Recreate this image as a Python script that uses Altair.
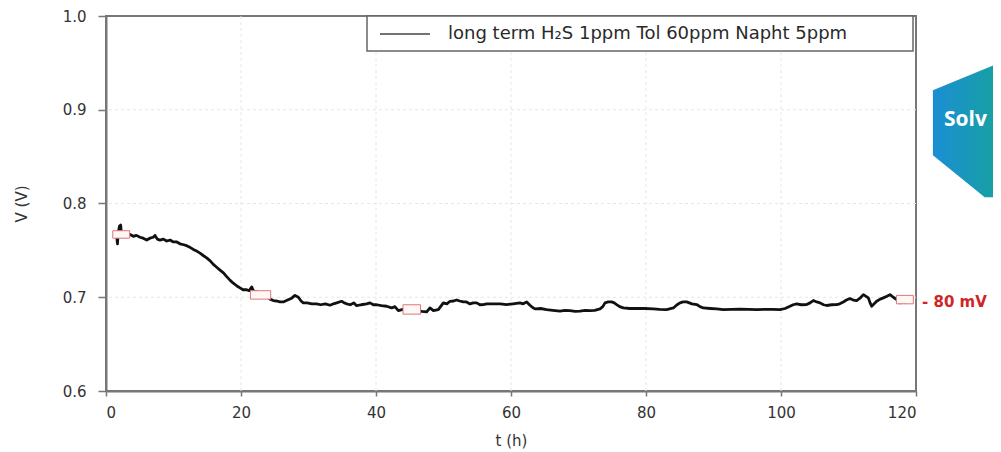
import altair as alt
import pandas as pd

# ---- data ----
t_h = [1.5, 1.58, 1.7, 1.8, 2.0, 2.17, 2.3, 2.6, 3.0, 3.56, 4.05, 4.5, 5.04, 5.5, 6.03, 6.5, 7.0, 7.26, 7.6, 8.0,
       8.5, 8.99, 9.5, 9.97, 10.5, 10.96, 11.5, 11.95, 12.5, 12.94, 13.5, 13.93, 14.5, 14.91, 15.4, 15.9, 16.4,
       16.89, 17.4, 17.88, 18.4, 18.86, 19.4, 19.85, 20.3, 20.84, 21.2, 21.58, 21.9, 22.32, 22.8, 23.3, 23.8,
       24.3, 24.79, 25.3, 25.78, 26.27, 26.9, 27.51, 28.0, 28.5, 28.9, 29.23, 29.8, 30.5, 31.21, 31.8, 32.5,
       33.19, 33.7, 34.17, 34.9, 35.3, 35.65, 36.2, 36.7, 37.14, 37.8, 38.62, 39.11, 39.6, 40.1, 40.8, 41.58,
       42.32, 42.8, 43.31, 44.0, 45.0, 46.0, 46.8, 47.51, 48.0, 48.5, 49.23, 49.98, 50.5, 50.96, 51.5, 51.95,
       52.4, 52.94, 53.4, 53.93, 54.4, 54.91, 55.4, 55.9, 56.4, 56.89, 57.38, 58.4, 59.36, 60.3, 61.33, 61.8,
       62.32, 62.81, 63.2, 63.56, 64.4, 65.28, 66.2, 67.26, 68.0, 68.74, 69.5, 70.22, 71.0, 71.7, 72.4, 73.19,
       73.6, 73.93, 74.4, 74.91, 75.3, 75.65, 76.1, 76.64, 77.6, 78.62, 79.8, 81.09, 82.0, 83.06, 84.05, 84.6,
       85.04, 85.5, 86.03, 86.8, 87.51, 88.0, 88.49, 89.5, 90.5, 91.45, 92.7, 93.93, 95.2, 96.4, 97.6, 98.7,
       99.85, 100.6, 101.33, 101.8, 102.32, 103.0, 103.8, 104.3, 104.79, 105.3, 105.78, 106.3, 106.77, 107.5,
       108.25, 108.7, 109.23, 109.7, 110.22, 110.7, 111.21, 111.7, 112.2, 112.6, 112.94, 113.2, 113.43, 113.8,
       114.17, 114.7, 115.16, 115.7, 116.15, 116.64, 117.14, 117.6, 118.1, 118.5]
v_V = [0.764, 0.765, 0.757, 0.768, 0.776, 0.777, 0.766, 0.768, 0.766, 0.767, 0.765, 0.766, 0.764, 0.763, 0.761,
       0.763, 0.764, 0.766, 0.762, 0.761, 0.762, 0.760, 0.761, 0.759, 0.759, 0.757, 0.756, 0.755, 0.753, 0.751,
       0.749, 0.747, 0.744, 0.742, 0.739, 0.735, 0.732, 0.729, 0.726, 0.722, 0.718, 0.715, 0.712, 0.710, 0.708,
       0.708, 0.707, 0.711, 0.706, 0.706, 0.704, 0.702, 0.701, 0.698, 0.6965, 0.696, 0.695, 0.695, 0.697, 0.699,
       0.702, 0.700, 0.696, 0.694, 0.694, 0.693, 0.693, 0.692, 0.693, 0.6915, 0.693, 0.694, 0.6957, 0.694, 0.693,
       0.692, 0.694, 0.691, 0.692, 0.693, 0.694, 0.692, 0.692, 0.691, 0.6904, 0.6886, 0.690, 0.6858, 0.687,
       0.687, 0.686, 0.685, 0.6844, 0.6886, 0.6858, 0.6869, 0.694, 0.693, 0.6957, 0.696, 0.6971, 0.696, 0.695,
       0.695, 0.6929, 0.694, 0.694, 0.692, 0.6922, 0.693, 0.6929, 0.6929, 0.693, 0.6922, 0.693, 0.694, 0.693,
       0.695, 0.6915, 0.689, 0.6876, 0.688, 0.6869, 0.686, 0.6851, 0.686, 0.6858, 0.685, 0.6851, 0.686, 0.6858,
       0.686, 0.6876, 0.690, 0.694, 0.695, 0.695, 0.694, 0.6922, 0.690, 0.6886, 0.688, 0.688, 0.688, 0.6876,
       0.687, 0.6869, 0.6886, 0.692, 0.694, 0.695, 0.695, 0.693, 0.6922, 0.690, 0.6886, 0.688, 0.6875, 0.6869,
       0.687, 0.6872, 0.687, 0.6869, 0.687, 0.687, 0.6869, 0.688, 0.6904, 0.692, 0.6929, 0.692, 0.6922, 0.694,
       0.6965, 0.695, 0.694, 0.692, 0.6912, 0.692, 0.6922, 0.693, 0.695, 0.697, 0.6986, 0.697, 0.6965, 0.699,
       0.7028, 0.701, 0.6993, 0.694, 0.6904, 0.693, 0.6957, 0.698, 0.6993, 0.701, 0.7028, 0.700, 0.6975, 0.694,
       0.695, 0.694]

series_name = "long term H\u2082S 1ppm Tol 60ppm Napht 5ppm"

# annotation boxes (time range, voltage range)
box_t0 = [1.0, 21.4, 44.0, 117.1]
box_t1 = [3.5, 24.4, 46.6, 119.6]
box_v0 = [0.763, 0.698, 0.682, 0.693]
box_v1 = [0.771, 0.707, 0.692, 0.702]

note_t = [120]
note_v = [0.695]
note_text = ["- 80 mV"]

x_ticks = [0, 20, 40, 60, 80, 100, 120]
y_ticks = [0.6, 0.7, 0.8, 0.9, 1.0]
grid_x = [20, 40, 60, 80, 100]
grid_y = [0.7, 0.8, 0.9]

logo_text = ["Solv"]

# ---- chart ----
FONT = "DejaVu Sans"
line_df = pd.DataFrame({"t": t_h, "v": v_V})
box_df = pd.DataFrame({"t0": box_t0, "t1": box_t1, "v0": box_v0, "v1": box_v1})
note_df = pd.DataFrame({"t": note_t, "v": note_v, "label": note_text})
leg_df = pd.DataFrame({"label": [series_name]})
logo_df = pd.DataFrame({"label": logo_text})
gx_df = pd.DataFrame({"t": grid_x})
gy_df = pd.DataFrame({"v": grid_y})

xs = alt.Scale(domain=[0, 120], nice=False, zero=False)
ys = alt.Scale(domain=[0.6, 1.0], nice=False, zero=False)

gridx = alt.Chart(gx_df).mark_rule(color="#e6e6e6", strokeWidth=1, strokeDash=[3, 3]).encode(
    x=alt.X("t:Q", scale=xs))
gridy = alt.Chart(gy_df).mark_rule(color="#e6e6e6", strokeWidth=1, strokeDash=[3, 3]).encode(
    y=alt.Y("v:Q", scale=ys))

line = alt.Chart(line_df).mark_line(color="#111111", strokeWidth=2.8, strokeJoin="round").encode(
    x=alt.X("t:Q", scale=xs, title="t (h)",
            axis=alt.Axis(values=x_ticks, format="d", tickSize=5, labelPadding=9, titlePadding=13)),
    y=alt.Y("v:Q", scale=ys, title="V (V)",
            axis=alt.Axis(values=y_ticks, format=".1f", tickSize=8, labelPadding=12, titlePadding=33)),
)

boxes = alt.Chart(box_df).mark_rect(fill="#fff6f6", stroke="#d97878", strokeWidth=1).encode(
    x="t0:Q", x2="t1:Q", y="v0:Q", y2="v1:Q"
)

note = alt.Chart(note_df).mark_text(align="left", baseline="middle", dx=6, font=FONT, fontSize=15,
                                     fontWeight="bold", color="#d02525").encode(
    x="t:Q", y="v:Q", text="label:N"
)

# legend box drawn in place
leg_box = alt.Chart(leg_df).mark_rect(fill="white", stroke="#666666", strokeWidth=1.5).encode(
    x=alt.value(261), x2=alt.value(807), y=alt.value(0), y2=alt.value(35)
)
leg_sym = alt.Chart(leg_df).mark_rule(color="#444444", strokeWidth=1.5).encode(
    x=alt.value(274), x2=alt.value(324), y=alt.value(18)
)
leg_txt = alt.Chart(leg_df).mark_text(align="left", baseline="middle", font=FONT, fontSize=18,
                                      color="#2a2a2a").encode(
    x=alt.value(342), y=alt.value(18), text="label:N"
)

# partial logo at right edge
grad = alt.Gradient(gradient="linear", x1=0, x2=1, y1=0, y2=0,
                    stops=[alt.GradientStop(color="#1b8ed3", offset=0),
                           alt.GradientStop(color="#17a39c", offset=0.75)])
logo = alt.Chart(logo_df).mark_point(
    shape="M-0.53,-0.54 L0.86,-1.11 L0.86,0.6 L0.33,0.99 L0.21,0.99 L-0.53,0.39 Z",
    size=19600, filled=True, fill=grad, opacity=1, strokeWidth=0
).encode(x=alt.value(864), y=alt.value(112))
logo_txt = alt.Chart(logo_df).mark_text(align="left", baseline="middle", font="Open Sans", fontSize=21,
                                        fontWeight="bold", color="white").encode(
    x=alt.value(838), y=alt.value(104), text="label:N"
)

chart = alt.layer(gridx, gridy, line, boxes, note, leg_box, leg_sym, leg_txt, logo, logo_txt).properties(
    width=810, height=375,
    autosize=alt.AutoSizeParams(type="none"),
    padding={"left": 98, "top": 8, "right": 77, "bottom": 58},
).configure_view(
    stroke="#777777", strokeWidth=2
).configure_axis(
    domainColor="#777777", domainWidth=2, tickColor="#777777", tickWidth=1.5,
    labelFont=FONT, labelFontSize=15, labelColor="#333333",
    titleFont=FONT, titleFontSize=15, titleColor="#333333", titleFontWeight="normal",
    grid=False
)

chart.save("out.html", embed_options={"renderer": "svg", "actions": False})
